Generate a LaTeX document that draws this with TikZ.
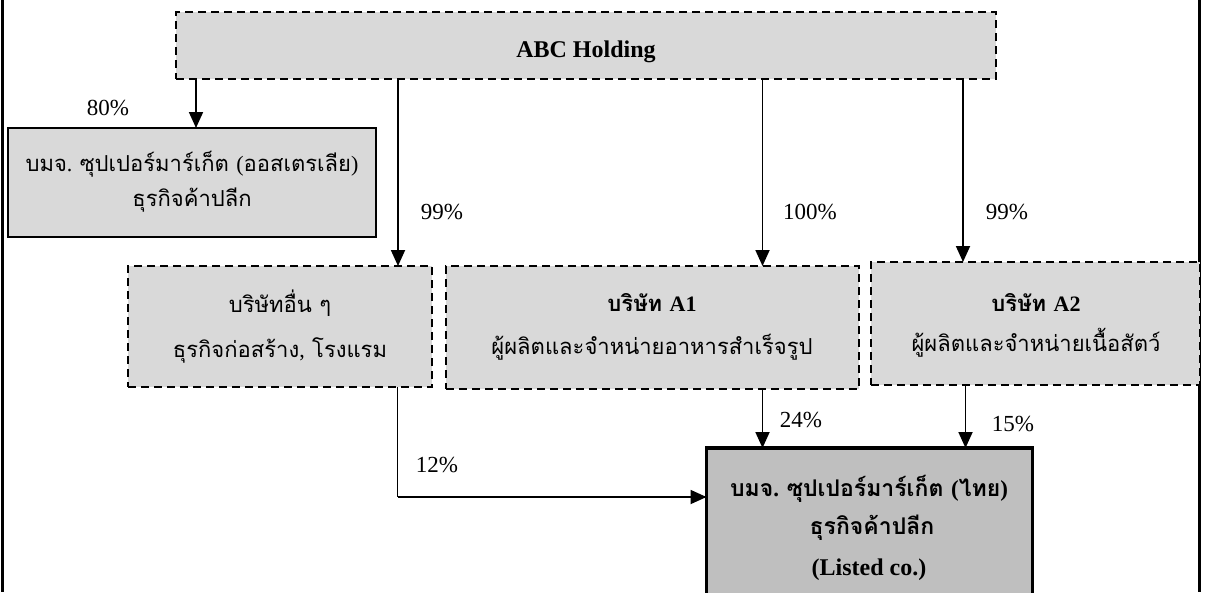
\documentclass[tikz,border=0pt]{standalone}
\usepackage{fontspec}
\setmainfont{Liberation Serif}
\newfontfamily\thai[Script=Thai]{Loma}
\newcommand{\lat}[1]{{\rmfamily #1}}
\usetikzlibrary{arrows.meta}
\definecolor{boxgray}{HTML}{D9D9D9}
\definecolor{listgray}{HTML}{BFBFBF}
\begin{document}
\begin{tikzpicture}[x=1pt,y=-1pt,
  sideline/.style={line width=2.5pt},
  boxbase/.style={fill=boxgray, inner sep=0pt, outer sep=0pt},
  dashbox/.style={boxbase, draw, line width=1.6pt, dash pattern=on 8pt off 5pt},
  solidbox/.style={boxbase, draw, line width=2pt},
  listbox/.style={draw, fill=listgray, line width=3.8pt, inner sep=0pt, outer sep=0pt},
  thtext/.style={inner sep=0pt, font=\thai\fontsize{22}{26}\selectfont},
  thbold/.style={inner sep=0pt, font=\thai\bfseries\fontsize{22}{26}\selectfont},
  thlist/.style={inner sep=0pt, font=\thai\bfseries\fontsize{23}{26}\selectfont},
  pct/.style={inner sep=0pt, font=\fontsize{23}{24}\selectfont},
  arr/.style={line width=1.8pt, -{Triangle[length=16pt,width=14pt]}},
  link/.style={line width=1.8pt},
]
\clip (0,0) rectangle (1206,592);

% outer side rules
\coordinate (fl1) at (2.5,0);
\coordinate (fl2) at (2.5,592);
\coordinate (fr1) at (1199.5,0);
\coordinate (fr2) at (1199.5,592);
\draw[sideline] (fl1) -- (fl2);
\draw[sideline] (fr1) -- (fr2);

% boxes
\node[dashbox, minimum width=820pt, minimum height=67pt] (abc) at (586,45.5) {};
\node[solidbox, minimum width=368pt, minimum height=109pt] (aus) at (192,182.5) {};
\node[dashbox, minimum width=304pt, minimum height=121pt] (oth) at (280,326.5) {};
\node[dashbox, minimum width=413pt, minimum height=123pt] (aone) at (652.5,327.5) {};
\node[dashbox, minimum width=329pt, minimum height=123pt] (atwo) at (1035.5,323.5) {};
\node[listbox, minimum width=326pt, minimum height=150pt] (lst) at (869.5,523) {};

% texts
\node[inner sep=0pt, font=\bfseries\fontsize{24}{26}\selectfont] (tabc) at (586,52) {ABC Holding};
\node[thtext] (taus1) at (192,164) {บมจ\lat{. }ซุปเปอร์มาร์เก็ต \lat{(}ออสเตรเลีย\lat{)}};
\node[thtext] (taus2) at (192,200) {ธุรกิจค้าปลีก};
\node[thtext] (toth1) at (280,303) {บริษัทอื่น ๆ};
\node[thtext] (toth2) at (280,350) {ธุรกิจก่อสร้าง\lat{,} โรงแรม};
\node[thbold] (tone1) at (652,303) {บริษัท \lat{A1}};
\node[thtext] (tone2) at (652,347) {ผู้ผลิตและจำหน่ายอาหารสำเร็จรูป};
\node[thbold] (ttwo1) at (1036,303) {บริษัท \lat{A2}};
\node[thtext] (ttwo2) at (1036,343) {ผู้ผลิตและจำหน่ายเนื้อสัตว์};
\node[thlist] (tlst1) at (869,489) {บมจ\lat{. }ซุปเปอร์มาร์เก็ต \lat{(}ไทย\lat{)}};
\node[thlist] (tlst2) at (872,528) {ธุรกิจค้าปลีก};
\node[inner sep=0pt, font=\bfseries\fontsize{24}{26}\selectfont] (tlst3) at (869,570) {(Listed co.)};

% percentage labels
\node[pct] (p80) at (108,108) {80\%};
\node[pct] (p99a) at (442,212) {99\%};
\node[pct] (p100) at (810,212) {100\%};
\node[pct] (p99b) at (1007,212) {99\%};
\node[pct] (p24) at (801,420) {24\%};
\node[pct] (p15) at (1013,424) {15\%};
\node[pct] (p12) at (437,465) {12\%};

% connector columns
\coordinate (c1) at (196,0);
\coordinate (c2) at (398,0);
\coordinate (c3) at (762.5,0);
\coordinate (c4) at (963,0);
\coordinate (c5) at (965.5,0);
\coordinate (c6) at (397.5,497);

% holdings from ABC
\draw[arr] (abc.south -| c1) -- (aus.north -| c1);
\draw[arr] (abc.south -| c2) -- (oth.north -| c2);
\draw[arr] (abc.south -| c3) -- (aone.north -| c3);
\draw[arr] (abc.south -| c4) -- (atwo.north -| c4);

% holdings in the listed company
\draw[arr] (aone.south -| c3) -- (lst.north -| c3);
\draw[arr] (atwo.south -| c5) -- (lst.north -| c5);
\draw[link] (oth.south -| c6) -- (c6);
\draw[arr] (c6) -- (lst.west |- c6);
\end{tikzpicture}
\end{document}
